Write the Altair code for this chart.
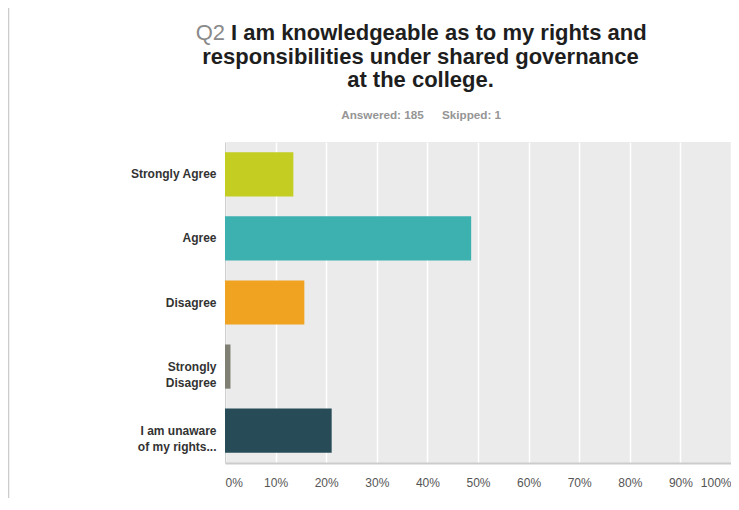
import altair as alt
import pandas as pd

categories = ["Strongly Agree", "Agree", "Disagree", "Strongly\nDisagree", "I am unaware\nof my rights..."]
percents = [13.51, 48.65, 15.68, 1.08, 21.08]
colors = ["#c3cd22", "#3cb1b0", "#f0a221", "#7f8073", "#274c58"]
tick_values = [0, 10, 20, 30, 40, 50, 60, 70, 80, 90, 100]

title_q = "Q2"
title_lines = ["I am knowledgeable as to my rights and",
               "responsibilities under shared governance",
               "at the college."]
answered = "Answered: 185"
skipped = "Skipped: 1"

FONT = "Liberation Sans"
W, H = 506, 321
PAD = {"left": 217, "top": 134, "right": 0, "bottom": 35}

df = pd.DataFrame({"category": categories, "percent": percents})
one = pd.DataFrame({"k": [0]})

bars = alt.Chart(df).mark_bar().encode(
    y=alt.Y("category:N", sort=categories, title=None,
            scale=alt.Scale(paddingInner=0.31, paddingOuter=0.16),
            axis=alt.Axis(labelExpr="split(datum.label, '\\n')", labelFont=FONT,
                          labelFontSize=12, labelFontWeight="bold", labelColor="#333333",
                          labelLineHeight=16, labelPadding=9, ticks=False, grid=False,
                          domainColor="#cfcfcf", domainWidth=1, labelLimit=200)),
    x=alt.X("percent:Q", title=None,
            scale=alt.Scale(domain=[0, 100], nice=False),
            axis=alt.Axis(values=tick_values, labelExpr="datum.value + '%'", labelFont=FONT,
                          labelFontSize=12, labelColor="#555555", labelFlush=True,
                          labelPadding=14, ticks=False, grid=True, gridColor="#ffffff",
                          gridWidth=1.5, domainColor="#cccccc", domainWidth=2)),
    color=alt.Color("category:N", scale=alt.Scale(domain=categories, range=colors), legend=None),
)

def txt(text, x, y, size, color, weight="bold", align="center"):
    return alt.Chart(one).mark_text(
        text=text, font=FONT, fontSize=size, fontWeight=weight, color=color,
        align=align, baseline="alphabetic"
    ).encode(x=alt.value(x), y=alt.value(y))

ox, oy = 225, 142  # page position of plot origin
layers = [
    bars,
    txt(title_q, 225 - ox, 40.3 - oy, 22, "#8a8a8a", weight="normal", align="right"),
    txt(title_lines[0], 231 - ox, 40.3 - oy, 22, "#1e1e1e", align="left"),
    txt(title_lines[1], 420.5 - ox, 63.5 - oy, 22, "#1e1e1e"),
    txt(title_lines[2], 420.5 - ox, 86.7 - oy, 22, "#1e1e1e"),
    txt(answered, 382.5 - ox, 119.3 - oy, 11.7, "#959595"),
    txt(skipped, 471.5 - ox, 119.3 - oy, 11.7, "#959595"),
    alt.Chart(one).mark_rule(color="#cccccc", strokeWidth=1.5).encode(
        x=alt.value(-216.5), y=alt.value(-134), y2=alt.value(H + PAD["bottom"])),
]

chart = alt.layer(*layers).properties(
    width=W, height=H,
    autosize=alt.AutoSizeParams(type="none"),
    padding=PAD,
    background="#ffffff",
).configure_view(fill="#ebebeb", stroke=None)

chart.save("out.html", embed_options={"renderer": "svg", "actions": False})
